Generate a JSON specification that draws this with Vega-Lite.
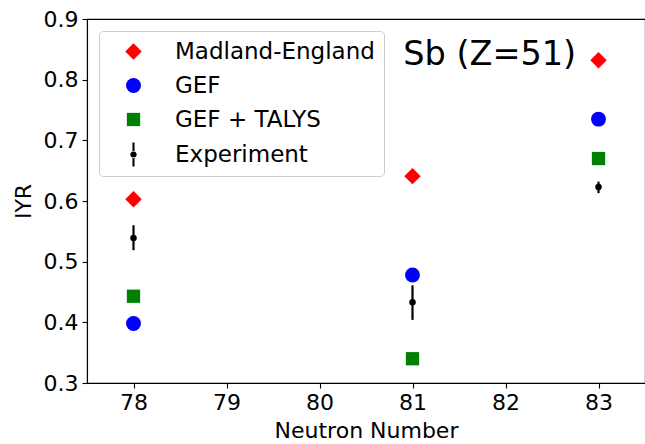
{
  "$schema": "https://vega.github.io/schema/vega-lite/v6.json",
  "width": 558,
  "height": 364,
  "autosize": {"type": "none"},
  "padding": {"left": 87, "top": 19, "right": 0, "bottom": 61},
  "background": "white",
  "config": {
    "font": "DejaVu Sans",
    "view": {"stroke": "black", "strokeWidth": 1.1},
    "axis": {
      "domainColor": "black", "domainWidth": 1.1, "tickColor": "black", "tickWidth": 1.1, "tickSize": 5,
      "labelFont": "DejaVu Sans", "labelFontSize": 22, "labelColor": "black", "labelPadding": 4,
      "titleFont": "DejaVu Sans", "titleFontSize": 22, "titleFontWeight": "normal", "titleColor": "black",
      "grid": false
    },
    "legend": {
      "orient": "none", "legendX": 12, "legendY": 12, "padding": 9,
      "fillColor": "white", "strokeColor": "#cccccc", "cornerRadius": 4,
      "labelFontSize": 23, "labelFont": "DejaVu Sans", "labelColor": "black", "labelLimit": 400,
      "labelOffset": 30, "rowPadding": 10, "symbolStrokeWidth": 0, "symbolOffset": 14
    }
  },
  "datasets": {
    "pts": [
      {"N": 78, "series": "Madland-England", "v": 0.603},
      {"N": 81, "series": "Madland-England", "v": 0.641},
      {"N": 83, "series": "Madland-England", "v": 0.832},
      {"N": 78, "series": "GEF", "v": 0.398},
      {"N": 81, "series": "GEF", "v": 0.478},
      {"N": 83, "series": "GEF", "v": 0.735},
      {"N": 78, "series": "GEF + TALYS", "v": 0.443},
      {"N": 81, "series": "GEF + TALYS", "v": 0.340},
      {"N": 83, "series": "GEF + TALYS", "v": 0.670},
      {"N": 78, "series": "Experiment", "v": 0.539, "lo": 0.519, "hi": 0.560},
      {"N": 81, "series": "Experiment", "v": 0.433, "lo": 0.404, "hi": 0.461},
      {"N": 83, "series": "Experiment", "v": 0.623, "lo": 0.613, "hi": 0.632}
    ],
    "lbl": [{"N": 80.9, "v": 0.84, "label": "Sb (Z=51)"}]
  },
  "layer": [
    {
      "data": {"name": "pts"},
      "transform": [{"filter": "datum.series !== 'Experiment'"}],
      "mark": {"type": "point", "filled": true, "opacity": 1, "strokeWidth": 0},
      "encoding": {
        "x": {"field": "N", "type": "quantitative", "scale": {"domain": [77.5, 83.5], "nice": false, "zero": false},
              "axis": {"values": [78, 79, 80, 81, 82, 83], "format": "d", "title": "Neutron Number", "titlePadding": 7}},
        "y": {"field": "v", "type": "quantitative", "scale": {"domain": [0.3, 0.9], "nice": false, "zero": false},
              "axis": {"values": [0.3, 0.4, 0.5, 0.6, 0.7, 0.8, 0.9], "format": ".1f", "title": "IYR", "titlePadding": 8}},
        "color": {"field": "series", "type": "nominal",
                  "scale": {"domain": ["Madland-England", "GEF", "GEF + TALYS", "Experiment"], "range": ["#ff0000", "#0000ff", "#008000", "#000000"]},
                  "legend": {"title": null}},
        "shape": {"field": "series", "type": "nominal",
                  "scale": {"domain": ["Madland-England", "GEF", "GEF + TALYS", "Experiment"],
                            "range": ["diamond", "circle", "square", "M-0.18,-2.1H0.18V-0.42H-0.18Z M-0.18,0.42H0.18V2.1H-0.18Z M-0.56,0A0.56,0.56 0 1,0 0.56,0A0.56,0.56 0 1,0 -0.56,0Z"]},
                  "legend": {"title": null}},
        "size": {"field": "series", "type": "nominal",
                 "scale": {"domain": ["Madland-England", "GEF", "GEF + TALYS", "Experiment"], "range": [270, 130, 130, 576]},
                 "legend": {"title": null}}
      }
    },
    {
      "data": {"name": "pts"},
      "transform": [{"filter": "datum.series === 'Experiment'"}],
      "mark": {"type": "rule", "color": "black", "strokeWidth": 2.2},
      "encoding": {
        "x": {"field": "N", "type": "quantitative"},
        "y": {"field": "lo", "type": "quantitative"},
        "y2": {"field": "hi"}
      }
    },
    {
      "data": {"name": "pts"},
      "transform": [{"filter": "datum.series === 'Experiment'"}],
      "mark": {"type": "point", "filled": true, "color": "black", "opacity": 1, "size": 42, "shape": "circle", "strokeWidth": 0},
      "encoding": {
        "x": {"field": "N", "type": "quantitative"},
        "y": {"field": "v", "type": "quantitative"}
      }
    },
    {
      "data": {"name": "lbl"},
      "mark": {"type": "text", "align": "left", "baseline": "middle", "fontSize": 33.5, "font": "DejaVu Sans", "color": "black"},
      "encoding": {
        "x": {"field": "N", "type": "quantitative"},
        "y": {"field": "v", "type": "quantitative"},
        "text": {"field": "label"}
      }
    }
  ]
}
